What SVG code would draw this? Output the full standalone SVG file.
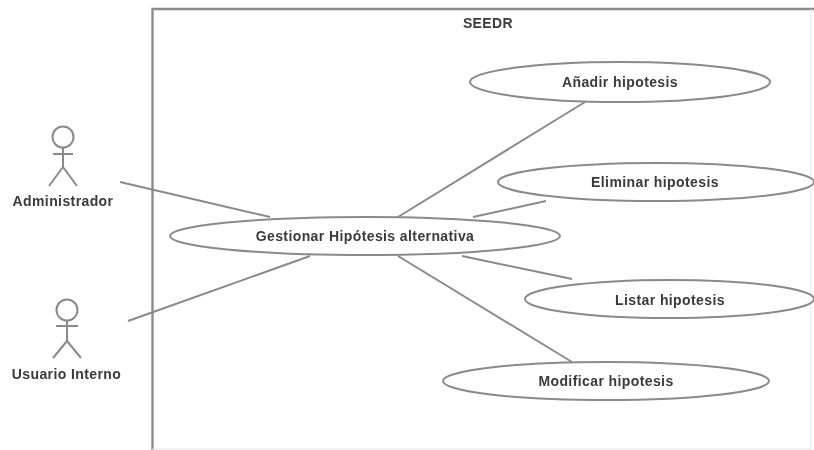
<svg xmlns="http://www.w3.org/2000/svg" width="814" height="450" viewBox="0 0 814 450">
<style>
.l{fill:none;stroke:#8a8a8a;stroke-width:2}
.u{fill:#fff;stroke:#8a8a8a;stroke-width:2}
.t{font-family:"Liberation Sans",Arial,sans-serif;font-size:14px;letter-spacing:.4px;font-weight:bold;fill:#3a3a3a;text-anchor:middle}
</style>
<defs>
<filter id="soft" x="-5%" y="-5%" width="110%" height="110%"><feGaussianBlur stdDeviation="0.7"/></filter>
</defs>
<rect width="814" height="450" fill="#fff"/>
<g filter="url(#soft)">
<g id="system">
<path d="M152.5 450V9H814" fill="none" stroke="#8c8c8c" stroke-width="2.4"/>
<path d="M811 9V449H152" fill="none" stroke="#e4e4e4" stroke-width="1"/>
<text class="t" x="488" y="28">SEEDR</text>
</g>
<g id="connectors">
<line class="l" x1="120" y1="182" x2="270" y2="217"/>
<line class="l" x1="128" y1="321" x2="310" y2="256"/>
<line class="l" x1="585" y1="102" x2="398" y2="217"/>
<line class="l" x1="546" y1="201" x2="473" y2="217"/>
<line class="l" x1="572" y1="279" x2="462" y2="256"/>
<line class="l" x1="572" y1="362" x2="398" y2="256"/>
</g>
<g id="actor-administrador">
<circle class="l" cx="63" cy="137" r="10.5"/>
<path class="l" d="M63 148V167M53 154H73M63 167L49 186M63 167L77 186"/>
<text class="t" x="63" y="206">Administrador</text>
</g>
<g id="actor-usuario-interno">
<circle class="l" cx="67" cy="310" r="10.5"/>
<path class="l" d="M67 321V341M56 326H78M67 341L53 358M67 341L81 358"/>
<text class="t" x="66.500" y="379">Usuario Interno</text>
</g>
<g id="uc-gestionar">
<ellipse class="u" cx="365" cy="236" rx="195" ry="19"/>
<text class="t" x="365" y="241">Gestionar Hipótesis alternativa</text>
</g>
<g id="uc-anadir">
<ellipse class="u" cx="620" cy="82" rx="150" ry="20"/>
<text class="t" x="620" y="87">Añadir hipotesis</text>
</g>
<g id="uc-eliminar">
<ellipse class="u" cx="656" cy="182" rx="158" ry="19"/>
<text class="t" x="655" y="187">Eliminar hipotesis</text>
</g>
<g id="uc-listar">
<ellipse class="u" cx="669.5" cy="299" rx="144.5" ry="19"/>
<text class="t" x="670" y="305">Listar hipotesis</text>
</g>
<g id="uc-modificar">
<ellipse class="u" cx="606" cy="381" rx="163" ry="19"/>
<text class="t" x="606" y="386">Modificar hipotesis</text>
</g>
</g>
</svg>
